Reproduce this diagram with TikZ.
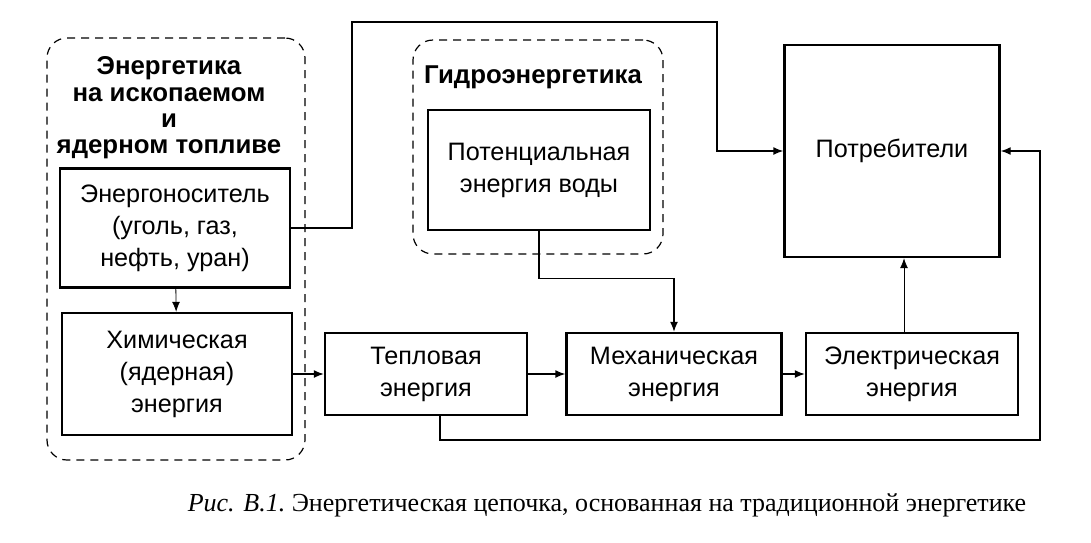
\documentclass[tikz,border=0pt]{standalone}
\usepackage{fontspec}
\setmainfont{Liberation Serif}
\setsansfont{Liberation Sans}
\usetikzlibrary{shapes, arrows.meta, positioning}

\begin{document}
\begin{tikzpicture}
  [
    x=0.5pt, y=-0.5pt,
    font=\sffamily\fontsize{12.6}{16}\selectfont,
    Block/.style={rectangle, draw=black, line width=1.2pt, align=center, inner sep=0pt},
    Group/.style={rectangle, draw=black, rounded corners=10pt, dash pattern=on 4pt off 3pt, line width=0.6pt},
    Title/.style={align=center, font=\sffamily\bfseries\fontsize{12.9}{13.2}\selectfont},
    Link/.style={draw, line width=0.7pt, -{Latex[length=5pt, width=4pt]}}
  ]
  \useasboundingbox (0,0) rectangle (1091,542);
  % Nodes
  \node[Group, minimum width=129pt, minimum height=211pt] (fuel) at (176,249) {};
  \node[Title] (fueltitle) at (169,108) {Энергетика\\на ископаемом\\и\\ядерном топливе};
  \node[Block, minimum width=115pt, minimum height=59.5pt] (carrier) at (175,228) {Энергоноситель\\(уголь, газ,\\нефть, уран)};
  \node[Block, minimum width=115pt, minimum height=61pt] (chem) at (177,374) {Химическая\\(ядерная)\\энергия};
  \node[Group, minimum width=125pt, minimum height=107pt] (hydro) at (538,147) {};
  \node[Title] (hydrotitle) at (533,77) {Гидроэнергетика};
  \node[Block, minimum width=111pt, minimum height=60pt] (water) at (539,170) {Потенциальная\\энергия воды};
  \node[Block, minimum width=107.5pt, minimum height=106pt] (users) at (892,151) {Потребители};
  \node[Block, minimum width=101pt, minimum height=41pt] (heat) at (426,374) {Тепловая\\энергия};
  \node[Block, minimum width=107.5pt, minimum height=41pt] (mech) at (674,374) {Механическая\\энергия};
  \node[Block, minimum width=106pt, minimum height=41pt] (elec) at (912,374) {Электрическая\\энергия};
  \node (caption) at (607,505) {\rmfamily\fontsize{13}{15}\selectfont\textit{Рис. В.1.}~Энергетическая цепочка, основанная на традиционной энергетике};
  \coordinate (upleft) at (352,22);
  \coordinate (upright) at (717,22);
  \coordinate (lowright) at (1040,440);
  % Lines
  \path [Link, line width=0.4pt] (carrier) -- (chem);
  \path [Link] (chem) -- (heat);
  \path [Link] (heat) -- (mech);
  \path [Link] (mech) -- (elec);
  \path [Link, line width=0.4pt] ([xshift=-4pt]elec.north) -- ([xshift=-4pt]users.south -| elec.north);
  \path [Link] (water.south) -- ++(0,47) -| (mech.north);
  \path [Link] (carrier.east) -| (upleft) -- (upright) |- (users.west);
  \path [Link] ([xshift=7pt]heat.south) |- (lowright) |- (users.east);
\end{tikzpicture}
\end{document}
